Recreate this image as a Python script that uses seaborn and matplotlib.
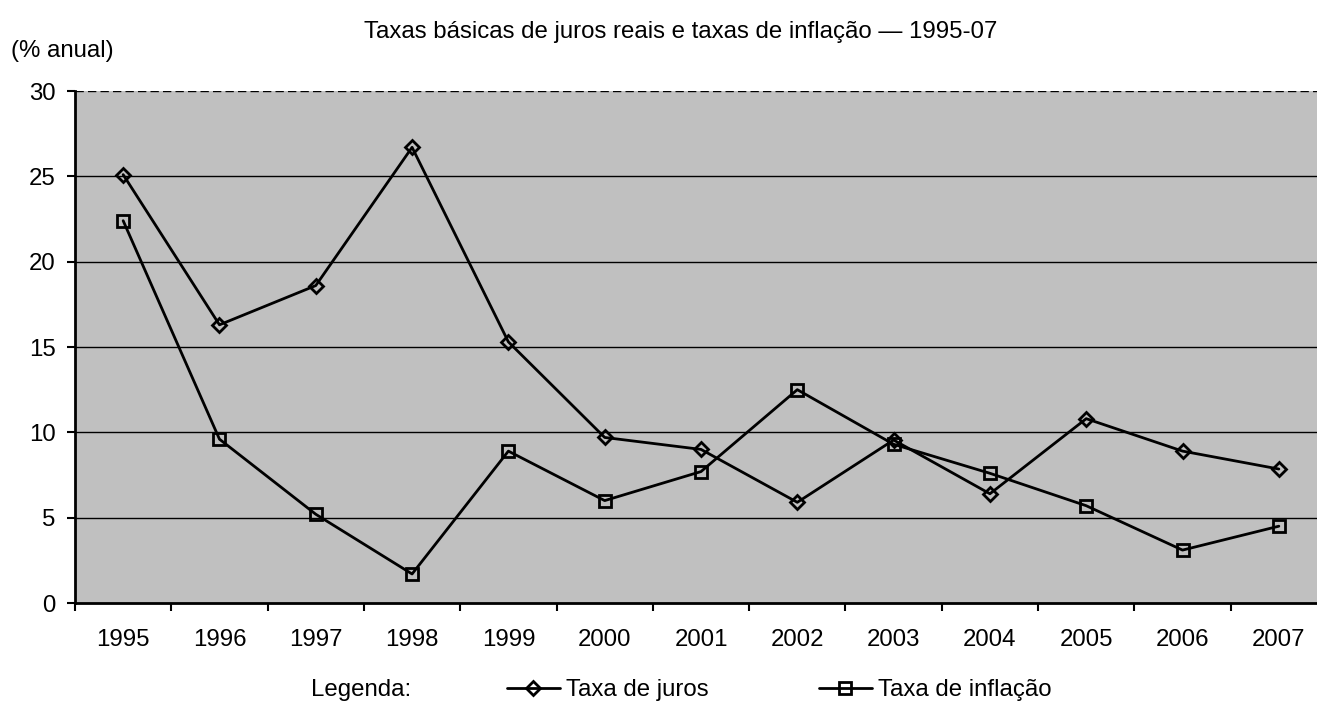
import matplotlib
matplotlib.use("Agg")
import matplotlib.pyplot as plt
import seaborn as sns
import pandas as pd
import numpy as np

years = ["1995", "1996", "1997", "1998", "1999", "2000", "2001",
         "2002", "2003", "2004", "2005", "2006", "2007"]
juros = [25.1, 16.3, 18.6, 26.7, 15.3, 9.7, 9.0, 5.9, 9.55, 6.4, 10.8, 8.9, 7.85]
inflacao = [22.4, 9.6, 5.2, 1.7, 8.9, 6.0, 7.7, 12.5, 9.3, 7.6, 5.7, 3.1, 4.5]
series_names = ["Taxa de juros", "Taxa de inflação"]
y_ticks = [0, 5, 10, 15, 20, 25, 30]

df = pd.DataFrame({
    "Ano": years * 2,
    "Valor": juros + inflacao,
    "Série": [series_names[0]] * len(years) + [series_names[1]] * len(years),
})

sns.set_theme(style="white")
plt.rcParams["font.family"] = ["Liberation Sans", "DejaVu Sans"]
plt.rcParams["text.color"] = "black"
plt.rcParams["xtick.color"] = "black"
plt.rcParams["ytick.color"] = "black"

FS = 17.3
W, H = 1317, 707
fig = plt.figure(figsize=(W / 100, H / 100), dpi=100)
left, right, top, bottom = 75, 1327, 91, 603
ax = fig.add_axes([left / W, (H - bottom) / H, (right - left) / W, (bottom - top) / H])
ax.set_facecolor("#C0C0C0")

sns.lineplot(data=df, x="Ano", y="Valor", hue="Série", style="Série",
             palette={series_names[0]: "black", series_names[1]: "black"},
             markers={series_names[0]: "D", series_names[1]: "s"},
             dashes=False, sort=False, linewidth=2, markersize=9.2,
             markeredgecolor="black", markeredgewidth=2,
             ax=ax, legend=False)
for ln in ax.lines:
    ln.set_markerfacecolor("none")
ax.lines[0].set_markersize(7.3)

ax.set_xlim(-0.5, len(years) - 0.5)
ax.set_ylim(0, 30)
ax.set_yticks(y_ticks)
ax.set_xticks(range(len(years)))
ax.set_xticklabels(years)
ax.set_xticks(np.arange(-0.5, len(years), 1.0), minor=True)
ax.tick_params(axis="x", which="major", length=0, pad=18.5, labelsize=FS, colors="black")
ax.tick_params(axis="x", which="minor", length=6, width=1.5, color="black", bottom=True)
ax.tick_params(axis="y", which="major", length=6, width=1.5, color="black", left=True,
               labelsize=FS, pad=8, labelcolor="black")
ax.set_xlabel("")
ax.set_ylabel("")

for v in y_ticks[1:-1]:
    ax.axhline(v, color="black", linewidth=1, zorder=0.5)
ax.axhline(30, color="black", linewidth=1, linestyle=(0, (6, 3)), zorder=0.5)

for s in ["top", "right"]:
    ax.spines[s].set_visible(False)
ax.spines["left"].set_color("black")
ax.spines["left"].set_linewidth(2)
ax.spines["bottom"].set_color("black")
ax.spines["bottom"].set_linewidth(2)

fig.text(681 / W, 1 - 32 / H, "Taxas básicas de juros reais e taxas de inflação — 1995-07",
         ha="center", va="center", fontsize=FS, color="black")
fig.text(11 / W, 1 - 51 / H, "(% anual)", ha="left", va="center", fontsize=FS, color="black")

fig.text(311 / W, 1 - 690 / H, "Legenda:", ha="left", va="center", fontsize=FS, color="black")
handles = ax.lines[:2]
leg = fig.legend(handles, series_names, loc="center left", bbox_to_anchor=(507 / W, 1 - 690 / H),
                 ncol=2, frameon=False, fontsize=FS, handlelength=2.2, handletextpad=0.25,
                 columnspacing=4.6, borderpad=0, borderaxespad=0)
for t in leg.get_texts():
    t.set_color("black")

fig.savefig("out.png", dpi=100)
